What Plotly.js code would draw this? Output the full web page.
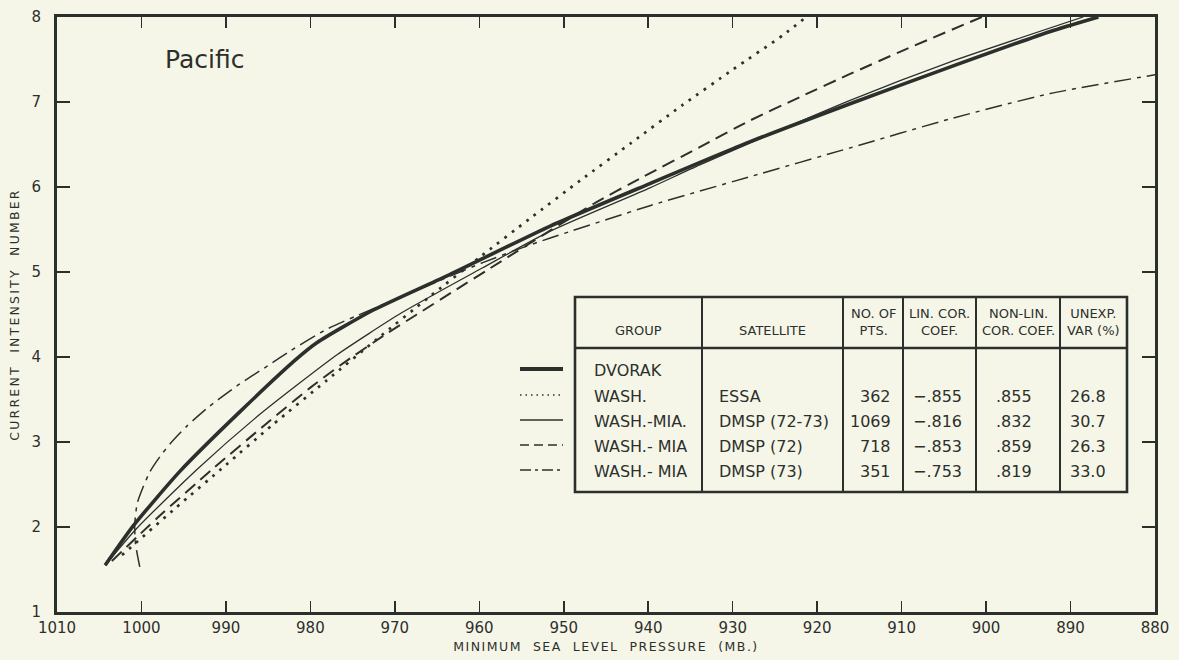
<!DOCTYPE html>
<html><head><meta charset="utf-8">
<script src="https://cdn.plot.ly/plotly-3.0.1.min.js"></script>
<style>
html,body{margin:0;padding:0;background:#f6f6e8;}
#chart{width:1179px;height:660px;}
.xtitle{letter-spacing:1.5px;}
.ytitle{letter-spacing:2.2px;}
</style></head><body><div id="chart"></div>
<script>
// ---- data ----
const xTickVals = [1010,1000,990,980,970,960,950,940,930,920,910,900,890,880];
const yTickVals = [1,2,3,4,5,6,7,8];

const dvorakP  = [1004.3,1001.0,995.4,988.3,981.6,979.2,972.6,963.5,951.6,939.8,928.0,916.1,904.3,892.4,886.7];
const dvorakCI = [1.55,2.01,2.66,3.36,3.98,4.17,4.55,4.97,5.54,6.04,6.53,6.98,7.41,7.83,8.0];

const essaP  = [1002.3,996.0,990.0,984.5,978.0,972.0,966.0,960.0,954.0,948.0,942.0,936.0,930.0,924.0,921.3];
const essaCI = [1.67,2.22,2.73,3.20,3.73,4.22,4.70,5.17,5.63,6.08,6.52,6.96,7.38,7.79,8.0];

const dmsp7273P  = [1004.3,1000.6,993.4,986.3,981.2,976.8,969.2,959.6,951.6,939.8,933.9,916.1,904.3,888.5];
const dmsp7273CI = [1.55,1.98,2.68,3.30,3.70,4.03,4.52,5.05,5.48,5.99,6.26,7.02,7.47,8.0];

const dmsp72P  = [1003.5,998.2,991.6,985.4,980.0,976.5,970.9,967.4,963.1,959.1,946.5,940.6,933.9,928.0,922.0,916.1,910.2,900.5];
const dmsp72CI = [1.60,2.10,2.68,3.20,3.64,3.90,4.28,4.50,4.77,5.02,5.80,6.12,6.47,6.78,7.06,7.33,7.59,8.0];

const dmsp73P  = [1000.2,1000.7,1000.8,1000.5,999.8,999.0,997.8,996.6,994.6,992.2,988.7,985.0,982.4,978.0,974.4,963.5,959.6,954.8,951.6,939.8,928.0,916.1,904.3,892.4,880.0];
const dmsp73CI = [1.53,1.80,2.02,2.28,2.47,2.65,2.83,2.98,3.19,3.40,3.66,3.90,4.07,4.33,4.49,4.95,5.11,5.29,5.40,5.78,6.12,6.46,6.80,7.10,7.32];

const groups     = ["DVORAK","WASH.","WASH.-MIA.","WASH.- MIA","WASH.- MIA"];
const satellites = ["","ESSA","DMSP (72-73)","DMSP (72)","DMSP (73)"];
const nPts       = [null,362,1069,718,351];
const linCor     = [null,-0.855,-0.816,-0.853,-0.753];
const nonLinCor  = [null,0.855,0.832,0.859,0.819];
const unexpVar   = [null,26.8,30.7,26.3,33.0];
const headers    = ["GROUP","SATELLITE","NO. OF<br>PTS.","LIN. COR.<br>COEF.","NON-LIN.<br>COR. COEF.","UNEXP.<br>VAR (%)"];

// ---- styling ----
const INK = '#2c302c';
const BG = '#f6f6e8';
const FONT = 'DejaVu Sans, Liberation Sans, sans-serif';
const L=57, R=1155, T=17, B=612;
const px = p => (p-L)/(R-L);
const py = p => (B-p)/(B-T);

const styles = [
  {w:3.6, dash:'solid'},
  {w:2.7, dash:'2.7px,6.5px'},
  {w:1.3, dash:'solid'},
  {w:2.0, dash:'13px,7px'},
  {w:1.5, dash:'17px,6px,4px,6px'}
];
const series = [[dvorakP,dvorakCI],[essaP,essaCI],[dmsp7273P,dmsp7273CI],[dmsp72P,dmsp72CI],[dmsp73P,dmsp73CI]];

const traces = series.map((s,i)=>({
  x:s[0], y:s[1], type:'scatter', mode:'lines',
  line:{color:INK, width:styles[i].w, dash:styles[i].dash, shape:'spline', smoothing:0.6},
  hoverinfo:'skip', showlegend:false
}));

// ---- table ----
const shapes = [];
const annotations = [];
const tL=575, tR=1127, tT=297, tB=492, tH=348;
const colX = [702,843,903,976,1060];
shapes.push({type:'rect', xref:'paper', yref:'paper', x0:px(tL), x1:px(tR), y0:py(tB), y1:py(tT), line:{color:INK,width:2.6}, fillcolor:BG, layer:'above'});
shapes.push({type:'line', xref:'paper', yref:'paper', x0:px(tL), x1:px(tR), y0:py(tH), y1:py(tH), line:{color:INK,width:2.6}});
colX.forEach(c=>shapes.push({type:'line', xref:'paper', yref:'paper', x0:px(c), x1:px(c), y0:py(tB), y1:py(tT), line:{color:INK,width:2}}));

const colCenters = [638,772,873,939,1018,1093];
headers.forEach((h,i)=>{
  annotations.push({xref:'paper', yref:'paper', x:px(colCenters[i]), y:py(i<2?330:322), text:h, showarrow:false,
    xanchor:'center', yanchor:'middle', font:{family:FONT,size:13,color:INK}});
});
const rowY = [370,396,421,446,471];
const fmtCoef = v => (v<0?'\u2212':'') + Math.abs(v).toFixed(3).replace(/^0/,'');
groups.forEach((g,i)=>{
  const y = py(rowY[i]);
  const f = {family:FONT,size:16,color:INK};
  annotations.push({xref:'paper',yref:'paper',x:px(592),y:y,text:g,showarrow:false,xanchor:'left',yanchor:'middle',font:f});
  if(satellites[i]) annotations.push({xref:'paper',yref:'paper',x:px(717),y:y,text:satellites[i],showarrow:false,xanchor:'left',yanchor:'middle',font:f});
  if(nPts[i]!==null){
    annotations.push({xref:'paper',yref:'paper',x:px(893),y:y,text:String(nPts[i]),showarrow:false,xanchor:'right',yanchor:'middle',font:f});
    annotations.push({xref:'paper',yref:'paper',x:px(937),y:y,text:fmtCoef(linCor[i]),showarrow:false,xanchor:'center',yanchor:'middle',font:f});
    annotations.push({xref:'paper',yref:'paper',x:px(1014),y:y,text:fmtCoef(nonLinCor[i]),showarrow:false,xanchor:'center',yanchor:'middle',font:f});
    annotations.push({xref:'paper',yref:'paper',x:px(1088),y:y,text:unexpVar[i].toFixed(1),showarrow:false,xanchor:'center',yanchor:'middle',font:f});
  }
  // legend sample
  const legW = [4,1.3,1.3,1.6,1.5][i];
  const legDash = ['solid','1.5px,4px','solid','9px,5px','11px,4px,3px,4px'][i];
  shapes.push({type:'line',xref:'paper',yref:'paper',x0:px(520),x1:px(563),y0:py(rowY[i]-1),y1:py(rowY[i]-1),line:{color:INK,width:legW,dash:legDash}});
});

annotations.push({xref:'paper',yref:'paper',x:px(163),y:py(60),text:'Pacific',showarrow:false,xanchor:'left',yanchor:'middle',font:{family:FONT,size:25,color:INK}});

const layout = {
  width:1179, height:660,
  margin:{l:L, r:1179-R, t:T, b:660-B, pad:0},
  paper_bgcolor:BG, plot_bgcolor:BG,
  showlegend:false, hovermode:false,
  xaxis:{range:[1010,880], tickvals:xTickVals, ticktext:xTickVals.map(String), ticks:'inside', ticklen:11, tickwidth:1.6, tickcolor:INK,
    showline:true, linewidth:3, linecolor:INK, mirror:'ticks', showgrid:false, zeroline:false,
    tickfont:{family:FONT,size:15,color:INK},
    title:{text:'MINIMUM  SEA  LEVEL  PRESSURE  (MB.)', font:{family:FONT,size:12.5,color:INK}, standoff:7}},
  yaxis:{range:[1,8], tickvals:yTickVals, ticks:'inside', ticklen:13, tickwidth:1.6, tickcolor:INK,
    showline:true, linewidth:3, linecolor:INK, mirror:'ticks', showgrid:false, zeroline:false,
    ticklabelstandoff:10,
    tickfont:{family:FONT,size:15,color:INK},
    title:{text:'CURRENT  INTENSITY  NUMBER', font:{family:FONT,size:12.5,color:INK}, standoff:10}},
  shapes:shapes, annotations:annotations,
  font:{family:FONT,color:INK}
};
Plotly.newPlot('chart', traces, layout, {staticPlot:true, displayModeBar:false});
</script></body></html>
